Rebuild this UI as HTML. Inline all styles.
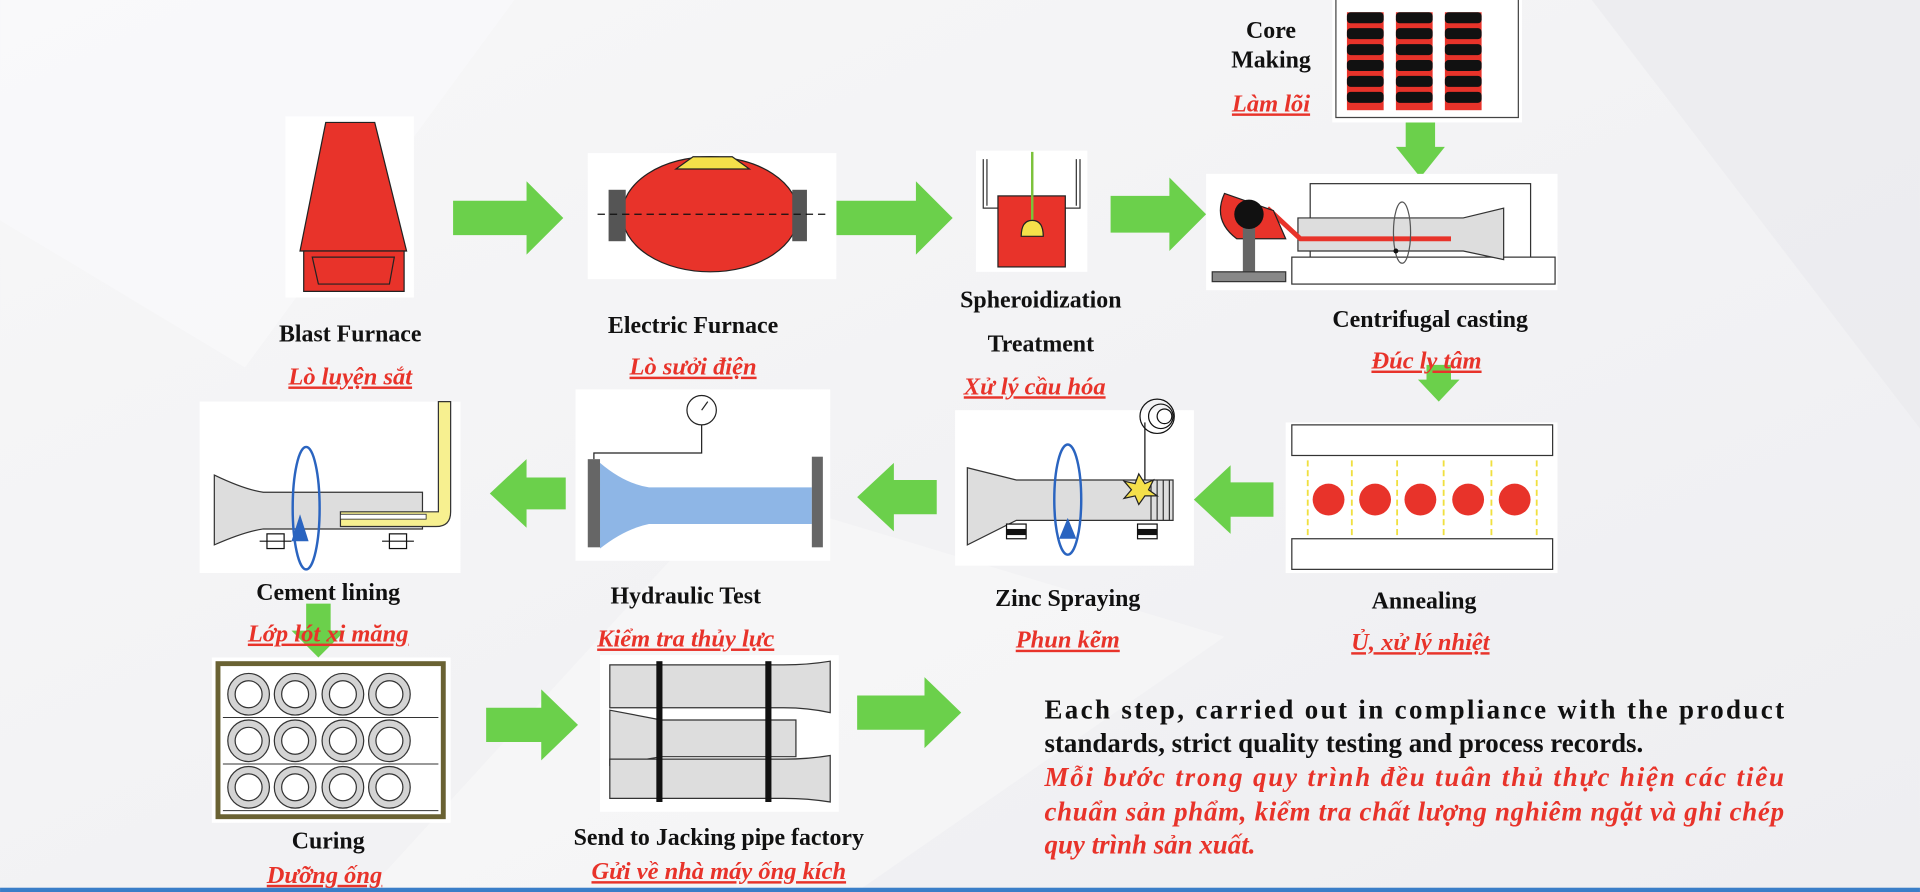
<!DOCTYPE html>
<html><head><meta charset="utf-8"><style>
html,body{margin:0;padding:0;background:#f3f3f5;}
svg{display:block}
.l{font-family:"Liberation Serif",serif;font-weight:bold;font-size:19.5px;fill:#111;text-anchor:middle}
.r{font-family:"Liberation Serif",serif;font-weight:bold;font-style:italic;font-size:20px;fill:#e8332a;text-anchor:middle;text-decoration:underline wavy #e8332a}
.p{font-family:"Liberation Serif",serif;font-weight:bold;font-size:22px;fill:#111}
.pr{font-family:"Liberation Serif",serif;font-weight:bold;font-style:italic;font-size:22px;fill:#e8332a}
</style></head><body>
<svg width="1920" height="892" viewBox="0 0 1568 728.5" xmlns="http://www.w3.org/2000/svg">
<defs><linearGradient id="bg" x1="0" y1="0" x2="1" y2="1"><stop offset="0" stop-color="#f7f7f8"/><stop offset="1" stop-color="#eeeef1"/></linearGradient></defs>
<rect width="1568" height="728.5" fill="url(#bg)"/>
<polygon points="0,0 420,0 200,300 0,180" fill="#fafafb" opacity=".7"/>
<polygon points="1300,0 1568,0 1568,350" fill="#e9e9ec" opacity=".6"/>
<polygon points="600,400 1000,520 700,728 300,728" fill="#f8f8f9" opacity=".6"/>
<rect x="0" y="725" width="1568" height="3.5" fill="#3a7ec8"/>

<!-- arrows -->
<g fill="#6bd04b">
<polygon points="370,164 430,164 430,148 460,178 430,208 430,192 370,192"/>
<polygon points="683,164 748,164 748,148 778,178 748,208 748,192 683,192"/>
<polygon points="907,160 955,160 955,145 985,175 955,205 955,190 907,190"/>
<polygon points="1148,100 1172,100 1172,120 1180,120 1160,145 1140,120 1148,120"/>
<polygon points="1165,298 1185,298 1185,310 1192,310 1175,328 1158,310 1165,310"/>
<polygon points="1040,394 1005,394 1005,380 975,408 1005,436 1005,422 1040,422"/>
<polygon points="765,392 730,392 730,378 700,406 730,434 730,420 765,420"/>
<polygon points="462,390 430,390 430,375 400,403 430,431 430,416 462,416"/>
<polygon points="250,493 270,493 270,515 282,515 260,537 238,515 250,515"/>
<polygon points="397,578 442,578 442,563 472,592 442,621 442,606 397,606"/>
<polygon points="700,568 755,568 755,553 785,582 755,611 755,596 700,596"/>
</g>

<!-- Blast furnace -->
<rect x="233" y="95" width="105" height="148" fill="#fff"/>
<polygon points="266,100 306,100 332,205 245,205" fill="#e8332a" stroke="#222" stroke-width="1"/>
<polygon points="248,205 330,205 330,238 248,238" fill="#e8332a" stroke="#222"/>
<polygon points="255,210 322,210 318,232 260,232" fill="none" stroke="#222"/>

<!-- Electric furnace -->
<rect x="480" y="125" width="203" height="103" fill="#fff"/>
<ellipse cx="580" cy="175" rx="72" ry="47" fill="#e8332a" stroke="#222"/>
<polygon points="552,138 566,128 598,128 612,138" fill="#f5e04a" stroke="#222"/>
<rect x="497" y="155" width="14" height="42" fill="#555"/>
<rect x="647" y="155" width="12" height="42" fill="#555"/>
<line x1="488" y1="175" x2="676" y2="175" stroke="#111" stroke-dasharray="6,4"/>

<!-- Spheroidization -->
<rect x="797" y="123" width="91" height="99" fill="#fff"/>
<path d="M803,130 V170 H815 M806,130 V168 M882,130 V170 H870 M879,130 V168" fill="none" stroke="#333"/>
<rect x="815" y="160" width="55" height="58" fill="#e8332a" stroke="#222"/>
<line x1="843" y1="124" x2="843" y2="182" stroke="#7cc23b" stroke-width="2"/>
<path d="M834,193 Q834,180 843,180 Q852,180 852,193 Z" fill="#f5e04a" stroke="#222"/>

<!-- Core making -->
<rect x="1088" y="0" width="155" height="100" fill="#fff"/>
<path d="M1091,0 V96 H1240 V0" fill="none" stroke="#444"/>
<g>
<rect x="1100" y="10" width="30" height="80" fill="#e8332a"/><rect x="1140" y="10" width="30" height="80" fill="#e8332a"/><rect x="1180" y="10" width="30" height="80" fill="#e8332a"/>
<g fill="#111">
<rect x="1100" y="10" width="30" height="9" rx="3"/><rect x="1100" y="23" width="30" height="9" rx="3"/><rect x="1100" y="36" width="30" height="9" rx="3"/><rect x="1100" y="49" width="30" height="9" rx="3"/><rect x="1100" y="62" width="30" height="9" rx="3"/><rect x="1100" y="75" width="30" height="9" rx="3"/>
<rect x="1140" y="10" width="30" height="9" rx="3"/><rect x="1140" y="23" width="30" height="9" rx="3"/><rect x="1140" y="36" width="30" height="9" rx="3"/><rect x="1140" y="49" width="30" height="9" rx="3"/><rect x="1140" y="62" width="30" height="9" rx="3"/><rect x="1140" y="75" width="30" height="9" rx="3"/>
<rect x="1180" y="10" width="30" height="9" rx="3"/><rect x="1180" y="23" width="30" height="9" rx="3"/><rect x="1180" y="36" width="30" height="9" rx="3"/><rect x="1180" y="49" width="30" height="9" rx="3"/><rect x="1180" y="62" width="30" height="9" rx="3"/><rect x="1180" y="75" width="30" height="9" rx="3"/>
</g></g>

<!-- Centrifugal -->
<rect x="985" y="142" width="287" height="95" fill="#fff"/>
<rect x="1070" y="150" width="180" height="65" fill="none" stroke="#333"/>
<rect x="1055" y="210" width="215" height="22" fill="#fff" stroke="#333"/>
<path d="M1060,178 H1195 L1228,170 V212 L1195,205 H1060 Z" fill="#ddd" stroke="#333"/>
<path d="M1035,170 L1062,195 H1185" fill="none" stroke="#e8332a" stroke-width="4"/>
<path d="M1000,158 L1040,172 L1050,195 L1010,195 Q990,180 1000,158 Z" fill="#e8332a" stroke="#222"/>
<rect x="1015" y="185" width="10" height="40" fill="#666"/>
<rect x="990" y="222" width="60" height="8" fill="#888" stroke="#333"/>
<circle cx="1020" cy="175" r="12" fill="#111"/>
<ellipse cx="1145" cy="190" rx="7" ry="25" fill="none" stroke="#555"/>
<circle cx="1140" cy="205" r="2" fill="#111"/>

<!-- Annealing -->
<rect x="1050" y="345" width="222" height="123" fill="#fff"/>
<rect x="1055" y="347" width="213" height="25" fill="#fff" stroke="#333"/>
<rect x="1055" y="440" width="213" height="25" fill="#fff" stroke="#333"/>
<g stroke="#f0e040" stroke-width="1.5" stroke-dasharray="5,3">
<line x1="1068" y1="376" x2="1068" y2="438"/><line x1="1104" y1="376" x2="1104" y2="438"/><line x1="1141" y1="376" x2="1141" y2="438"/><line x1="1179" y1="376" x2="1179" y2="438"/><line x1="1218" y1="376" x2="1218" y2="438"/><line x1="1255" y1="376" x2="1255" y2="438"/>
</g>
<g fill="#e8332a"><circle cx="1085" cy="408" r="13"/><circle cx="1123" cy="408" r="13"/><circle cx="1160" cy="408" r="13"/><circle cx="1199" cy="408" r="13"/><circle cx="1237" cy="408" r="13"/></g>

<!-- Zinc -->
<rect x="780" y="335" width="195" height="127" fill="#fff"/>
<path d="M790,382 L830,392 H958 V425 H830 L790,445 Z" fill="#ddd" stroke="#333"/>
<path d="M940,392 V425 M945,392 V425 M950,392 V425 M955,392 V425" stroke="#333"/>
<ellipse cx="872" cy="408" rx="11" ry="45" fill="none" stroke="#2a64c0" stroke-width="2"/>
<polygon points="872,423 865,440 879,440" fill="#2a64c0"/>
<rect x="822" y="428" width="16" height="12" fill="#fff" stroke="#111"/><rect x="822" y="432" width="16" height="5" fill="#111"/>
<rect x="929" y="428" width="16" height="12" fill="#fff" stroke="#111"/><rect x="929" y="432" width="16" height="5" fill="#111"/>
<g fill="none" stroke="#111"><circle cx="945" cy="340" r="14"/><circle cx="948" cy="340" r="10"/><circle cx="951" cy="340" r="6"/></g>
<line x1="935" y1="345" x2="935" y2="392" stroke="#111"/>
<polygon points="930,387 935,395 942,392 938,400 945,405 935,405 930,412 927,405 918,407 924,400 918,393 927,395" fill="#f5e04a" stroke="#222"/>

<!-- Hydraulic -->
<rect x="470" y="318" width="208" height="140" fill="#fff"/>
<path d="M490,378 Q510,395 530,398 H663 V428 H530 Q510,432 490,448 Z" fill="#8eb6e6"/>
<rect x="480" y="375" width="10" height="72" fill="#666"/>
<rect x="663" y="373" width="9" height="74" fill="#666"/>
<path d="M485,375 V370 H573 V347" fill="none" stroke="#222"/>
<circle cx="573" cy="335" r="12" fill="#fff" stroke="#222"/>
<line x1="573" y1="335" x2="578" y2="328" stroke="#222"/>

<!-- Cement -->
<rect x="163" y="328" width="213" height="140" fill="#fff"/>
<path d="M175,388 Q200,400 215,402 H345 V432 H215 Q200,434 175,445 Z" fill="#ddd" stroke="#333"/>
<path d="M360,328 H368 V418 Q368,430 356,430 H278 V418 H358 V328 Z" fill="#f7f090" stroke="#333"/>
<rect x="278" y="420" width="70" height="4" fill="#fff" stroke="#333" stroke-width=".7"/>
<ellipse cx="250" cy="415" rx="11" ry="50" fill="none" stroke="#2a64c0" stroke-width="2"/>
<polygon points="245,420 238,442 252,442" fill="#2a64c0"/>
<g fill="none" stroke="#111"><rect x="218" y="436" width="14" height="12"/><line x1="212" y1="442" x2="238" y2="442"/><rect x="318" y="436" width="14" height="12"/><line x1="312" y1="442" x2="338" y2="442"/></g>

<!-- Curing -->
<rect x="173" y="537" width="195" height="135" fill="#fff"/>
<rect x="178" y="542" width="184" height="125" fill="#fff" stroke="#6a6233" stroke-width="4"/>
<g stroke="#333" stroke-width=".8">
<line x1="182" y1="586" x2="358" y2="586"/><line x1="182" y1="624" x2="358" y2="624"/><line x1="182" y1="662" x2="358" y2="662"/>
</g>
<g fill="#d4d4d4" stroke="#333">
<circle cx="203" cy="567" r="17"/><circle cx="241" cy="567" r="17"/><circle cx="280" cy="567" r="17"/><circle cx="318" cy="567" r="17"/>
<circle cx="203" cy="605" r="17"/><circle cx="241" cy="605" r="17"/><circle cx="280" cy="605" r="17"/><circle cx="318" cy="605" r="17"/>
<circle cx="203" cy="643" r="17"/><circle cx="241" cy="643" r="17"/><circle cx="280" cy="643" r="17"/><circle cx="318" cy="643" r="17"/>
</g>
<g fill="#fff" stroke="#333">
<circle cx="203" cy="567" r="11"/><circle cx="241" cy="567" r="11"/><circle cx="280" cy="567" r="11"/><circle cx="318" cy="567" r="11"/>
<circle cx="203" cy="605" r="11"/><circle cx="241" cy="605" r="11"/><circle cx="280" cy="605" r="11"/><circle cx="318" cy="605" r="11"/>
<circle cx="203" cy="643" r="11"/><circle cx="241" cy="643" r="11"/><circle cx="280" cy="643" r="11"/><circle cx="318" cy="643" r="11"/>
</g>

<!-- Jacking -->
<rect x="490" y="535" width="195" height="128" fill="#fff"/>
<g fill="#ddd" stroke="#333">
<path d="M498,543 H640 Q660,543 678,540 V582 Q660,578 640,578 H498 Z"/>
<path d="M498,580 L540,588 H650 V618 H540 L498,625 Z"/>
<path d="M498,620 H640 Q660,620 678,617 V655 Q660,652 640,652 H498 Z"/>
</g>
<rect x="536" y="540" width="5" height="115" fill="#111"/>
<rect x="625" y="540" width="5" height="115" fill="#111"/>

<!-- labels -->
<text class="l" x="286" y="279">Blast Furnace</text>
<text class="r" x="286" y="314">Lò luyện sắt</text>
<text class="l" x="566" y="272">Electric Furnace</text>
<text class="r" x="566" y="306">Lò sưởi điện</text>
<text class="l" x="850" y="251">Spheroidization</text>
<text class="l" x="850" y="287">Treatment</text>
<text class="r" x="845" y="322">Xử lý cầu hóa</text>
<text class="l" x="1038" y="31">Core</text>
<text class="l" x="1038" y="55">Making</text>
<text class="r" x="1038" y="91">Làm lõi</text>
<text class="l" x="1168" y="267">Centrifugal casting</text>
<text class="r" x="1165" y="301">Đúc ly tâm</text>
<text class="l" x="1163" y="497">Annealing</text>
<text class="r" x="1160" y="531">Ủ, xử lý nhiệt</text>
<text class="l" x="872" y="495">Zinc Spraying</text>
<text class="r" x="872" y="529">Phun kẽm</text>
<text class="l" x="560" y="493">Hydraulic Test</text>
<text class="r" x="560" y="528">Kiểm tra thủy lực</text>
<text class="l" x="268" y="490">Cement lining</text>
<text class="r" x="268" y="524">Lớp lót xi măng</text>
<text class="l" x="268" y="693">Curing</text>
<text class="r" x="265" y="721">Dưỡng ống</text>
<text class="l" x="587" y="690">Send to Jacking pipe factory</text>
<text class="r" x="587" y="718">Gửi về nhà máy ống kích</text>

<text class="p" x="853" y="587" textLength="604" lengthAdjust="spacing">Each step, carried out in compliance with the product</text>
<text class="p" x="853" y="614">standards, strict quality testing and process records.</text>
<text class="pr" x="853" y="642" textLength="604" lengthAdjust="spacing">Mỗi bước trong quy trình đều tuân thủ thực hiện các tiêu</text>
<text class="pr" x="853" y="670" textLength="604" lengthAdjust="spacing">chuẩn sản phẩm, kiểm tra chất lượng nghiêm ngặt và ghi chép</text>
<text class="pr" x="853" y="697">quy trình sản xuất.</text>
</svg>
</body></html>
